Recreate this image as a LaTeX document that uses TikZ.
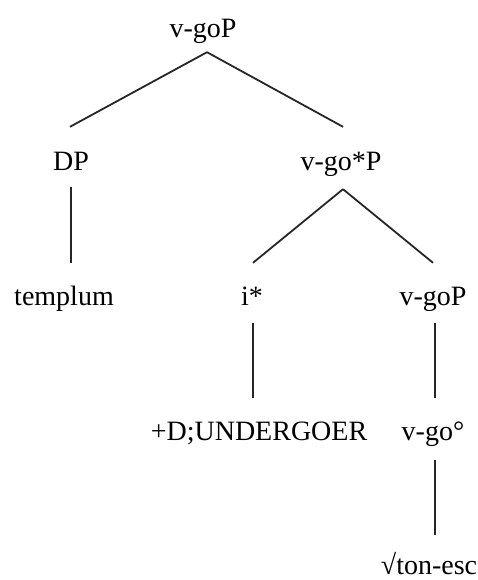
\documentclass[tikz,border=0pt]{standalone}
\usepackage{fontspec}
\setmainfont{Liberation Serif}
\begin{document}
\begin{tikzpicture}[x=1pt,y=-1pt,
  lab/.style={anchor=base,inner sep=0pt,text height=19pt,text depth=7pt,
    font=\fontsize{28}{33}\selectfont},
  branch/.style={line width=1.8pt,black!85}]
\useasboundingbox (0,0) rectangle (477,580);
% labels of the tree
\node[lab] (root) at (203,38) {v-goP};
\node[lab] (dp) at (71,171) {DP};
\node[lab] (vgostar) at (341,171) {v-go*P};
\node[lab] (templum) at (64,305) {templum};
\node[lab] (istar) at (252,305) {i*};
\node[lab] (vgop) at (433,305) {v-goP};
\node[lab] (undergoer) at (259,440) {+D;UNDERGOER};
\node[lab] (vgodeg) at (433,440) {v-go°};
\node[lab] (root2) at (429,574) {√ton-esc};
% branches
\draw[branch] ([shift={(4pt,-7pt)}]root.south) -- ([shift={(-1pt,25pt)}]dp.north);
\draw[branch] ([shift={(4pt,-7pt)}]root.south) -- ([shift={(2pt,25pt)}]vgostar.north);
\draw[branch] ([yshift=-9pt]dp.south) -- ([yshift=23pt]dp.south |- templum.north);
\draw[branch] ([shift={(2pt,-11pt)}]vgostar.south) -- ([shift={(1pt,23pt)}]istar.north);
\draw[branch] ([shift={(2pt,-11pt)}]vgostar.south) -- ([yshift=23pt]vgop.north);
\draw[branch] ([shift={(1pt,-11pt)}]istar.south) -- ([shift={(1pt,23pt)}]istar.south |- undergoer.north);
\draw[branch] ([shift={(2pt,-11pt)}]vgop.south) -- ([shift={(2pt,23pt)}]vgop.south |- vgodeg.north);
\draw[branch] ([shift={(2pt,-13pt)}]vgodeg.south) -- ([shift={(2pt,20pt)}]vgodeg.south |- root2.north);
\end{tikzpicture}
\end{document}
